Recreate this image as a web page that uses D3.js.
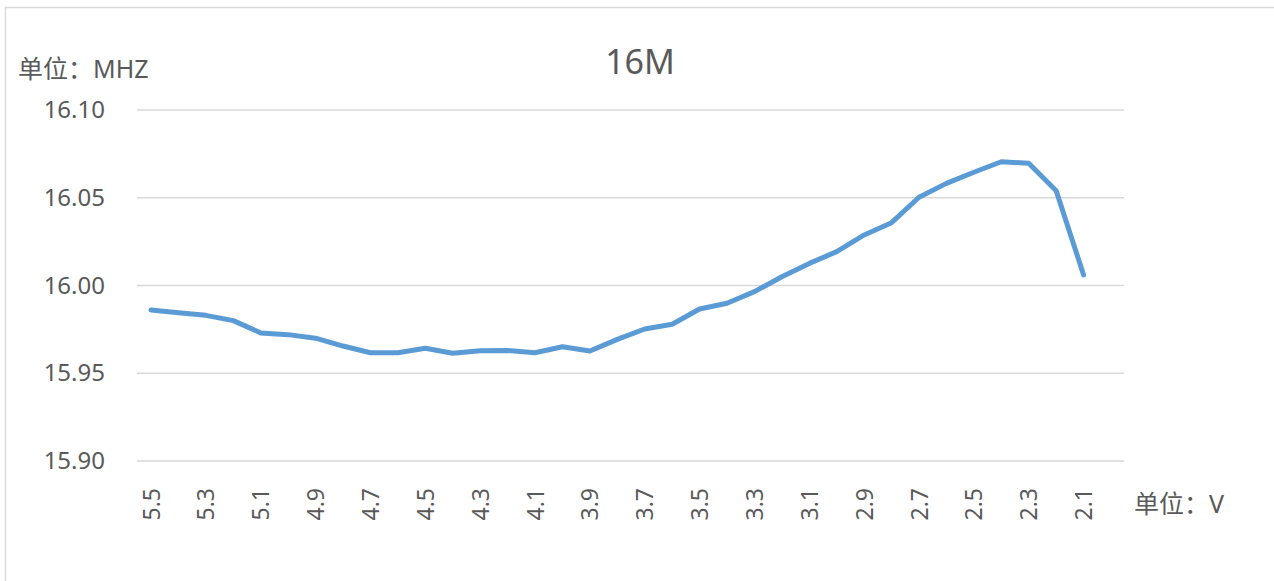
<!DOCTYPE html>
<html>
<head>
<meta charset="utf-8">
<script src="https://cdn.jsdelivr.net/npm/d3@7"></script>
<style>
  body { margin: 0; background: #fff; }
  text { font-family: "Noto Sans", "Noto Sans CJK SC", sans-serif; fill: #595959; }
</style>
</head>
<body>
<div id="chart"></div>
<script>
var svgWidth = 1274;
var svgHeight = 581;

// voltage categories (V), left to right
var voltages = ["5.5","5.4","5.3","5.2","5.1","5.0","4.9","4.8","4.7","4.6","4.5","4.4",
  "4.3","4.2","4.1","4.0","3.9","3.8","3.7","3.6","3.5","3.4","3.3","3.2","3.1","3.0",
  "2.9","2.8","2.7","2.6","2.5","2.4","2.3","2.2","2.1"];

// frequency (MHz)
var freq = [15.986, 15.9845, 15.983, 15.980, 15.973, 15.972, 15.970, 15.9655, 15.9617,
  15.9617, 15.9642, 15.9614, 15.9628, 15.963, 15.9617, 15.9651, 15.9627, 15.9693,
  15.9752, 15.9779, 15.9866, 15.9899, 15.9965, 16.005, 16.0126, 16.0193, 16.0288,
  16.0358, 16.0503, 16.0582, 16.0645, 16.0705, 16.0696, 16.054, 16.006];

var yTicks = [15.90, 15.95, 16.00, 16.05, 16.10];
var xLabels = voltages.filter(function(d, i) { return i % 2 === 0; });

var plot = { left: 137, right: 1124, top: 110, bottom: 461 };

var svg = d3.select("#chart")
  .append("svg")
  .attr("width", svgWidth)
  .attr("height", svgHeight);

// chart area border
svg.append("rect")
  .attr("x", 5.5).attr("y", 7.5)
  .attr("width", svgWidth + 10).attr("height", svgHeight + 10)
  .attr("fill", "none")
  .attr("stroke", "#d9d9d9")
  .attr("stroke-width", 1.5);

var x = d3.scalePoint()
  .domain(voltages)
  .range([151, 1083.6]);

var y = d3.scaleLinear()
  .domain([15.90, 16.10])
  .range([plot.bottom, plot.top]);

// gridlines
svg.append("g")
  .selectAll("line")
  .data(yTicks)
  .enter()
  .append("line")
  .attr("x1", plot.left).attr("x2", plot.right)
  .attr("y1", d => y(d)).attr("y2", d => y(d))
  .attr("stroke", "#d9d9d9")
  .attr("stroke-width", 1.5);

// y labels
var leftAxis = d3.axisLeft(y).tickValues(yTicks).tickFormat(d3.format(".2f")).tickSize(0).tickPadding(0);
var yAxis = svg.append("g")
  .attr("transform", "translate(105, 0)")
  .call(leftAxis);
yAxis.select(".domain").remove();
yAxis.selectAll("text")
  .attr("font-size", 24)
  .attr("fill", "#595959")
  .attr("font-family", "Noto Sans, sans-serif");

// x labels (rotated)
var bottomAxis = d3.axisBottom(x).tickValues(xLabels).tickSize(0);
var xAxis = svg.append("g")
  .attr("transform", `translate(0, ${plot.bottom})`)
  .call(bottomAxis);
xAxis.select(".domain").remove();
xAxis.selectAll("text")
  .attr("font-size", 23)
  .attr("fill", "#595959")
  .attr("font-family", "Noto Sans, sans-serif")
  .attr("transform", "rotate(-90)")
  .attr("text-anchor", "end")
  .attr("x", -27)
  .attr("y", 0)
  .attr("dy", "0.35em");

// line
var line = d3.line()
  .x((d, i) => x(voltages[i]))
  .y(d => y(d));

svg.append("path")
  .datum(freq)
  .attr("d", line)
  .attr("fill", "none")
  .attr("stroke", "#5b9bd5")
  .attr("stroke-width", 5)
  .attr("stroke-linejoin", "round")
  .attr("stroke-linecap", "round");

// title and unit labels
svg.append("text")
  .attr("x", 640).attr("y", 74)
  .attr("text-anchor", "middle")
  .attr("font-size", 34)
  .text("16M");

svg.append("text")
  .attr("x", 18).attr("y", 78)
  .attr("font-size", 25)
  .text("单位：MHZ");

svg.append("text")
  .attr("x", 1134).attr("y", 513)
  .attr("font-size", 25)
  .text("单位：V");
</script>
</body>
</html>
